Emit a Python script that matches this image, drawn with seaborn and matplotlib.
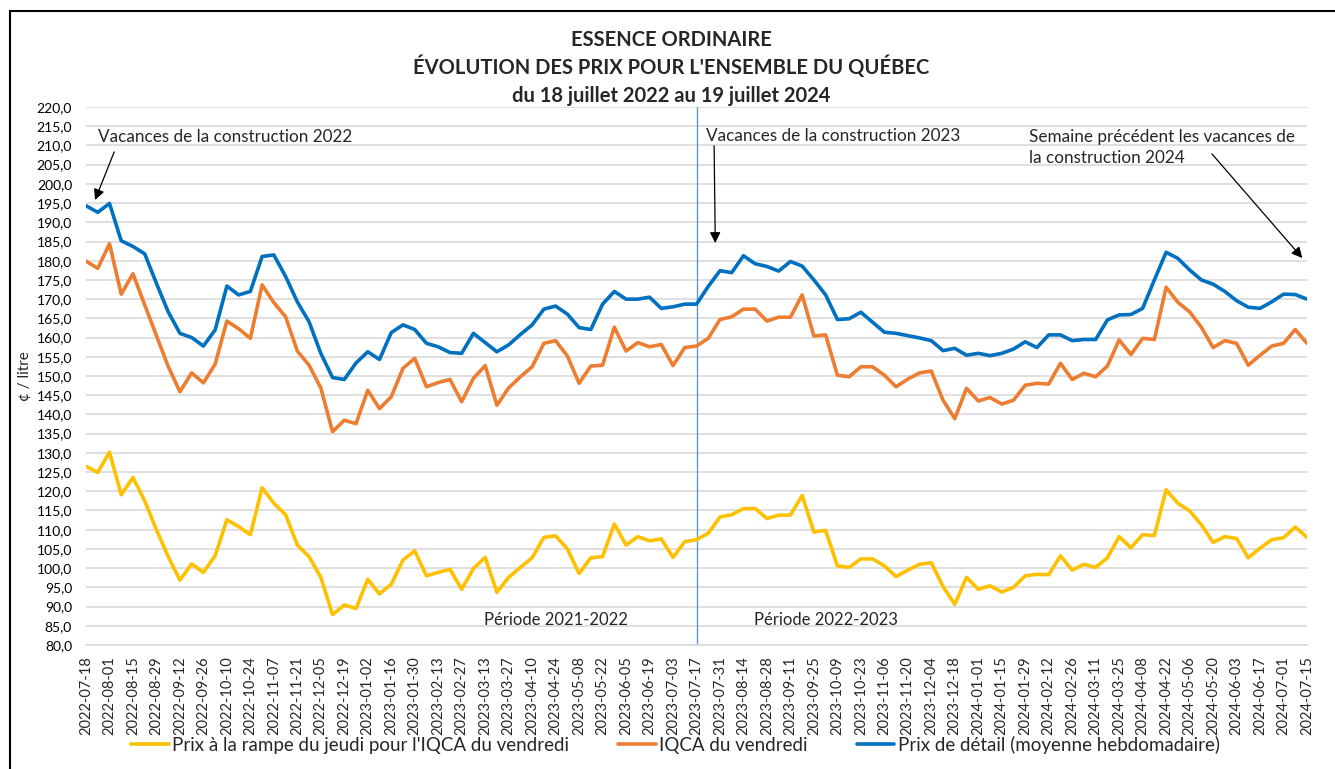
"""
Essence ordinaire - évolution des prix pour l'ensemble du Québec
"""

import numpy as np
import pandas as pd
import matplotlib
matplotlib.use("Agg")
import matplotlib.pyplot as plt
import matplotlib.dates as mdates
from matplotlib.patches import Rectangle
import seaborn as sns

# Weekly series, starting 2022-07-18 (one value per week)
START_DATE = "2022-07-18"

detail = [194.3, 192.6, 194.9, 185.2, 183.7, 181.8, 174.1, 166.7, 161.1, 160.0,
          157.8, 162.0, 173.4, 171.1, 172.0, 181.1, 181.5, 175.9, 169.3, 164.1,
          155.9, 149.6, 149.1, 153.4, 156.3, 154.3, 161.3, 163.3, 162.1, 158.5,
          157.6, 156.1, 155.9, 161.1, 158.7, 156.3, 158.1, 160.8, 163.3, 167.4,
          168.2, 166.1, 162.6, 162.1, 168.7, 172.0, 170.0, 170.0, 170.5, 167.6,
          168.0, 168.7, 168.7, 173.3, 177.4, 176.9, 181.3, 179.2, 178.5, 177.3,
          179.8, 178.6, 175.0, 171.1, 164.7, 164.9, 166.6, 164.0, 161.4, 161.1,
          160.5, 159.9, 159.2, 156.6, 157.2, 155.4, 155.9, 155.3, 155.9, 157.0,
          158.9, 157.4, 160.7, 160.7, 159.2, 159.5, 159.5, 164.6, 165.9, 166.0,
          167.6, 175.0, 182.2, 180.6, 177.6, 175.0, 173.9, 172.0, 169.6, 167.9,
          167.6, 169.3, 171.3, 171.2, 170.0]

iqca = [179.9, 178.0, 184.4, 171.3, 176.6, 168.5, 160.5, 152.5, 145.9, 150.8,
        148.2, 153.1, 164.3, 162.3, 159.8, 173.7, 169.1, 165.4, 156.5, 152.8,
        146.9, 135.5, 138.5, 137.6, 146.3, 141.5, 144.6, 152.0, 154.6, 147.2,
        148.3, 149.1, 143.3, 149.4, 152.7, 142.4, 146.9, 149.8, 152.4, 158.5,
        159.2, 155.2, 148.1, 152.6, 152.8, 162.7, 156.5, 158.7, 157.6, 158.2,
        152.7, 157.4, 157.8, 159.8, 164.7, 165.4, 167.4, 167.4, 164.3, 165.3,
        165.3, 171.1, 160.4, 160.7, 150.2, 149.8, 152.4, 152.4, 150.2, 147.2,
        149.2, 150.8, 151.3, 143.7, 138.9, 146.8, 143.5, 144.4, 142.7, 143.7,
        147.6, 148.1, 147.9, 153.3, 149.1, 150.7, 149.8, 152.6, 159.4, 155.6,
        159.8, 159.5, 173.1, 169.2, 166.7, 162.7, 157.4, 159.2, 158.5, 152.8,
        155.4, 157.8, 158.5, 162.1, 158.5]

rampe = [126.5, 124.9, 130.2, 119.1, 123.6, 117.5, 110.0, 103.0, 96.9, 101.1,
         98.9, 103.2, 112.6, 110.8, 108.7, 120.9, 116.9, 113.9, 106.0, 103.0,
         97.6, 87.9, 90.4, 89.5, 97.1, 93.3, 95.8, 102.1, 104.5, 98.0,
         98.9, 99.7, 94.5, 99.9, 102.8, 93.7, 97.6, 100.2, 102.7, 108.0,
         108.4, 105.0, 98.6, 102.7, 103.0, 111.5, 106.0, 108.2, 107.1, 107.6,
         102.8, 106.9, 107.4, 109.1, 113.3, 113.9, 115.5, 115.5, 112.9, 113.8,
         113.8, 118.9, 109.4, 109.8, 100.6, 100.2, 102.4, 102.4, 100.6, 97.8,
         99.5, 101.0, 101.4, 95.2, 90.6, 97.6, 94.5, 95.4, 93.8, 95.0,
         98.0, 98.4, 98.3, 103.2, 99.5, 101.0, 100.2, 102.7, 108.2, 105.3,
         108.7, 108.5, 120.4, 116.9, 114.9, 111.3, 106.7, 108.2, 107.7, 102.7,
         105.2, 107.4, 107.9, 110.7, 108.0]

SERIES = [
    ("Prix à la rampe du jeudi pour l'IQCA du vendredi", rampe, "#FFC000"),
    ("IQCA du vendredi", iqca, "#ED7D31"),
    ("Prix de détail (moyenne hebdomadaire)", detail, "#0070C0"),
]

TITLE_LINES = ["ESSENCE ORDINAIRE",
               "ÉVOLUTION DES PRIX POUR L'ENSEMBLE DU QUÉBEC",
               "du 18 juillet 2022 au 19 juillet 2024"]

dates = pd.date_range(START_DATE, periods=len(detail), freq="7D")

df = pd.DataFrame({"date": dates})
for name, values, _ in SERIES:
    df[name] = values
long_df = df.melt(id_vars="date", var_name="serie", value_name="prix")


def wk(i):
    """x position of (fractional) week i"""
    return mdates.date2num(dates[0] + pd.Timedelta(days=7 * i))


sns.set_style("white")
plt.rcParams["font.family"] = ["Lato", "DejaVu Sans"]

fig = plt.figure(figsize=(13.35, 7.69), dpi=100)
ax = fig.add_axes([86 / 1335, 1 - 645 / 769, (1307 - 86) / 1335, (645 - 107) / 769])

sns.lineplot(data=long_df, x="date", y="prix", hue="serie",
             hue_order=[s[0] for s in SERIES],
             palette={s[0]: s[2] for s in SERIES},
             linewidth=2.6, ax=ax, legend=False)

# axes
ax.set_xlim(dates[0], dates[-1])
ax.set_ylim(80, 220)
yt = np.arange(80, 221, 5)
ax.set_yticks(yt)
ax.set_yticklabels([f"{v:.1f}".replace(".", ",") for v in yt], fontsize=10)
ax.set_xticks(dates[::2])
ax.set_xticklabels([d.strftime("%Y-%m-%d") for d in dates[::2]],
                   rotation=90, fontsize=10.5)
ax.tick_params(axis="y", length=0, pad=10, colors="#000000")
ax.tick_params(axis="x", length=5, width=1, color="#D9D9D9", pad=3)
ax.yaxis.grid(True, color="#D9D9D9", linewidth=1.2)
ax.xaxis.grid(False)
for side in ["top", "right", "left"]:
    ax.spines[side].set_visible(False)
ax.spines["bottom"].set_color("#D9D9D9")
ax.spines["bottom"].set_linewidth(1.2)
ax.set_xlabel("")
ax.set_ylabel("¢ / litre", fontsize=11, labelpad=3)

# separation between periods
ax.axvline(dates[52], color="#5B9BD5", linewidth=1.0, zorder=1)

# annotations
ax.text(wk(1.0), 212.2, "Vacances de la construction 2022", fontsize=12.3,
        ha="left", va="center")
ax.text(wk(52.8), 212.5, "Vacances de la construction 2023", fontsize=12.3,
        ha="left", va="center")
ax.text(wk(80.3), 209.5, "Semaine précédent les vacances de\nla construction 2024",
        fontsize=12.3, ha="left", va="center", linespacing=1.4)
arrow = dict(arrowstyle="-|>", color="black", lw=0.9, mutation_scale=16,
             shrinkA=0, shrinkB=0)
ax.annotate("", xy=(wk(0.77), 195.8), xytext=(wk(2.4), 208.3), arrowprops=arrow)
ax.annotate("", xy=(wk(53.6), 184.6), xytext=(wk(53.5), 209.9), arrowprops=arrow)
ax.annotate("", xy=(wk(103.6), 180.7), xytext=(wk(95.9), 207.8), arrowprops=arrow)

ax.text(wk(40), 86.5, "Période 2021-2022", fontsize=12, ha="center", va="center")
ax.text(wk(63), 86.5, "Période 2022-2023", fontsize=12, ha="center", va="center")

# title, one line at a time
for line, ypix in zip(TITLE_LINES, [40, 67, 96]):
    fig.text(0.503, 1 - ypix / 769, line, ha="center", va="center",
             fontsize=14.5, fontweight="bold")

# legend
handles = [plt.Line2D([], [], color=c, linewidth=2.6) for _, _, c in SERIES]
fig.legend(handles, [s[0] for s in SERIES], loc="center", ncol=3,
           bbox_to_anchor=(0.506, 1 - 745 / 769), frameon=False, fontsize=13.5,
           handlelength=2.0, handletextpad=0.2, columnspacing=2.6)

# outer frame
fig.patches.append(Rectangle((10 / 1335, -0.05), 1.1, 1 - 11 / 769 + 0.05,
                             transform=fig.transFigure, fill=False,
                             edgecolor="black", linewidth=1.5))

fig.savefig("out.png", dpi=100)
